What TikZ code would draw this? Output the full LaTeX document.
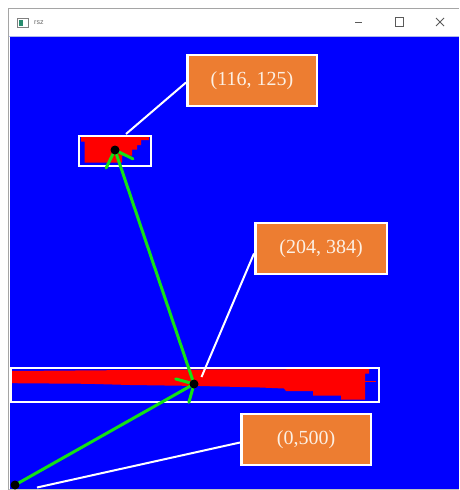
\documentclass[tikz,border=0pt]{standalone}
\usepackage{fontspec}
\setmainfont{Liberation Serif}
\newfontfamily\uifont{Liberation Sans}
\usetikzlibrary{calc}

\definecolor{cvblue}{RGB}{0,0,255}
\definecolor{cvred}{RGB}{255,0,0}
\definecolor{cvgreen}{RGB}{20,225,20}
\definecolor{tagorange}{RGB}{237,125,49}
\definecolor{tagtext}{RGB}{252,240,228}
\definecolor{framegray}{RGB}{165,165,165}
\definecolor{btngray}{RGB}{90,90,90}
\definecolor{barline}{RGB}{175,185,235}
\definecolor{icongreen}{RGB}{40,140,110}

\begin{document}
\begin{tikzpicture}[x=1pt, y=-1pt,
  tag/.style={draw=white, line width=2.5pt, fill=tagorange, text=tagtext,
    font=\fontsize{20}{24}\selectfont, minimum height=51pt, inner sep=0pt},
  lead/.style={draw=white, line width=2pt},
  roi/.style={draw=white, line width=2pt},
  blob/.style={fill=cvred},
  centre/.style={circle, fill=black, minimum size=9pt, inner sep=0pt},
  vec/.style={draw=cvgreen, line width=3pt, line cap=round, line join=round},
  btn/.style={draw=btngray, line width=0.9pt},
]
\useasboundingbox (0,0) rectangle (459,490);

% window frame and title bar
\fill[white] (0,0) rectangle (459,490);
\fill[cvblue] (9.5,37) rectangle (459,489);
\draw[framegray, line width=1pt] (8.5,490) -- (8.5,8.5) -- (459,8.5);
\draw[barline, line width=1pt] (9,36.5) -- (459,36.5);
\draw[framegray!70, line width=1pt] (9,489.5) -- (459,489.5);

% title bar icon, caption and buttons
\draw[gray, line width=0.6pt, fill=white] (17.5,18) rectangle (28,27);
\fill[icongreen] (19,20) rectangle (23,26);
\node[font=\uifont\fontsize{7}{8}\selectfont, text=gray!80!black, anchor=west, inner sep=0pt]
  (caption) at (34,22.5) {rsz};
\draw[btn] (355,22.5) -- (362,22.5);
\draw[btn] (395.5,17.5) rectangle (403.5,26.5);
\draw[btn] (436,18) -- (444,26) (444,18) -- (436,26);

% red blobs
\fill[blob] (81,137) -- (149,137) -- (149,140) -- (141,140) -- (141,145) -- (137,145)
  -- (137,149.5) -- (132,149.5) -- (132,155.5) -- (122,155.5) -- (122,162.5)
  -- (84.5,162.5) -- (84.5,141.5) -- (81,141.5) -- cycle;
\fill[blob] (12,371) -- (200,369.5) -- (369,369) -- (369,373.5) -- (365,373.5)
  -- (365,399.5) -- (341,399.5) -- (341,395.5) -- (313,395.5) -- (313,391)
  -- (286,391) -- (284,388.5) -- (260,387.5) -- (200,386) -- (130,385)
  -- (88,383.8) -- (12,383.2) -- cycle;
\fill[blob] (365,380.5) rectangle (376,382);

% regions of interest
\draw[roi] (79,136) rectangle (151,165.5);
\draw[roi] (11,367.5) rectangle (378.8,402);

% points
\coordinate (pTop) at (115,150);
\coordinate (pMid) at (194,384);
\coordinate (pOrg) at (15,485);

% green vectors with open heads
\draw[vec] (pOrg) -- (pMid);
\draw[vec] ($(pMid)!19pt!45:(pOrg)$) -- (pMid) -- ($(pMid)!19pt!-45:(pOrg)$);
\draw[vec] (pMid) -- (pTop);
\draw[vec] ($(pTop)!20pt!45:(pMid)$) -- (pTop) -- ($(pTop)!20pt!-45:(pMid)$);

\node[centre] (dTop) at (pTop) {};
\node[centre] (dMid) at (pMid) {};
\node[centre] (dOrg) at (pOrg) {};

% coordinate tags
\node[tag, minimum width=129.5pt] (tagTop) at (252,80.5) {(116, 125)};
\node[tag, minimum width=131.5pt] (tagMid) at (321,248.5) {(204, 384)};
\node[tag, minimum width=129.5pt] (tagOrg) at (306,439.5) {(0,500)};

\coordinate (endTop) at (126,134);
\coordinate (endMid) at (201.5,377);
\coordinate (endOrg) at (37,487.5);

\draw[lead] ($(tagTop.west)+(0,2)$) -- (endTop);
\draw[lead] ($(tagMid.west)+(0,5)$) -- (endMid);
\draw[lead] ($(tagOrg.west)+(0,3)$) -- (endOrg);
\end{tikzpicture}
\end{document}
